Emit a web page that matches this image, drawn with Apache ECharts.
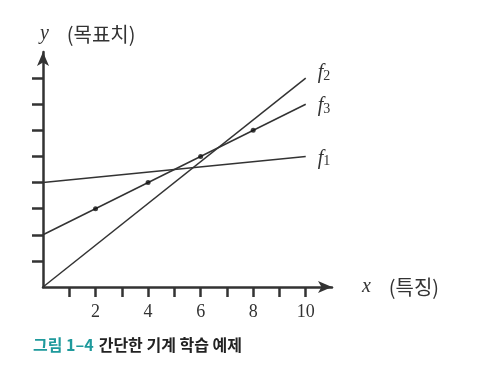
<!DOCTYPE html>
<html>
<head>
<meta charset="utf-8">
<script src="https://cdn.jsdelivr.net/npm/echarts@6/dist/echarts.min.js"></script>
<style>
  html, body { margin: 0; padding: 0; background: #fff; }
  #main { width: 494px; height: 368px; }
</style>
</head>
<body>
<div id="main"></div>
<script>
// 직선의 양 끝 x값
var lineX = [0, 10];
var f1 = [4, 5];
var f2 = [0, 8];
var f3 = [2, 7];

// 학습 데이터 점
var pointX = [2, 4, 6, 8];
var pointY = [3, 4, 5, 6];

var xTicks = [1, 2, 3, 4, 5, 6, 7, 8, 9, 10];
var xLabels = [2, 4, 6, 8, 10];
var yTicks = [1, 2, 3, 4, 5, 6, 7, 8];

var ink = '#333';
var serif = '"Liberation Serif", "DejaVu Serif", serif';
var kr = '"Noto Sans CJK KR", sans-serif';

function pairs(ys) {
  return lineX.map(function (x, i) { return [x, ys[i]]; });
}

function lineSeries(name, ys, sub, dy) {
  return {
    name: name,
    type: 'line',
    data: pairs(ys),
    symbol: 'none',
    silent: true,
    lineStyle: { color: ink, width: 1.5 },
    endLabel: {
      show: true,
      distance: 12,
      offset: [0, dy],
      formatter: '{f|f}{s|' + sub + '}',
      rich: {
        f: { fontFamily: serif, fontStyle: 'italic', fontSize: 20, color: ink },
        s: { fontFamily: serif, fontSize: 14, color: ink, padding: [6, 0, 0, 0] }
      }
    }
  };
}

var myChart = echarts.init(document.getElementById('main'));

var option = {
  animation: false,
  title: {
    text: '{a|그림 1–4} {b|간단한 기계 학습 예제}',
    left: 33,
    top: 336,
    padding: 0,
    textStyle: {
      rich: {
        a: { fontFamily: kr, fontWeight: 'bold', fontSize: 16, color: '#1f9a9c' },
        b: { fontFamily: kr, fontWeight: 'bold', fontSize: 16, color: '#222' }
      }
    }
  },
  grid: { left: 43, right: 162, top: 52, bottom: 81 },
  xAxis: {
    type: 'value',
    min: 0,
    max: 11,
    interval: 1,
    name: '{i|x}    (특징)',
    nameLocation: 'end',
    nameGap: 30,
    nameTextStyle: {
      rich: {
        i: { fontFamily: serif, fontStyle: 'italic', fontSize: 20, color: ink }
      },
      fontFamily: kr, fontSize: 20, color: ink
    },
    axisLine: {
      show: true,
      lineStyle: { color: ink, width: 2.5 },
      symbol: ['none', 'arrow'],
      symbolSize: [9, 14]
    },
    axisTick: {
      show: true,
      inside: false,
      length: 10,
      customValues: xTicks,
      lineStyle: { color: ink, width: 2.5 }
    },
    axisLabel: {
      customValues: xLabels,
      margin: 16,
      fontFamily: serif,
      fontSize: 18,
      color: ink
    },
    splitLine: { show: false }
  },
  yAxis: {
    type: 'value',
    min: 0,
    max: 9,
    interval: 1,
    name: '{i|y}    (목표치)',
    nameLocation: 'end',
    nameGap: 8,
    nameTextStyle: {
      align: 'left',
      padding: [0, 0, 0, -3],
      fontFamily: kr, fontSize: 20, color: ink,
      rich: {
        i: { fontFamily: serif, fontStyle: 'italic', fontSize: 20, color: ink }
      }
    },
    axisLine: {
      show: true,
      lineStyle: { color: ink, width: 2.5 },
      symbol: ['none', 'arrow'],
      symbolSize: [9, 14]
    },
    axisTick: {
      show: true,
      length: 11,
      customValues: yTicks,
      lineStyle: { color: ink, width: 2.5 }
    },
    axisLabel: { show: false },
    splitLine: { show: false }
  },
  series: [
    lineSeries('f1', f1, '1', 2),
    lineSeries('f2', f2, '2', -5),
    lineSeries('f3', f3, '3', 2),
    {
      name: 'data',
      type: 'scatter',
      data: pointX.map(function (x, i) { return [x, pointY[i]]; }),
      symbolSize: 5,
      itemStyle: { color: '#111' },
      silent: true,
      z: 5
    }
  ]
};

myChart.setOption(option);
</script>
</body>
</html>
